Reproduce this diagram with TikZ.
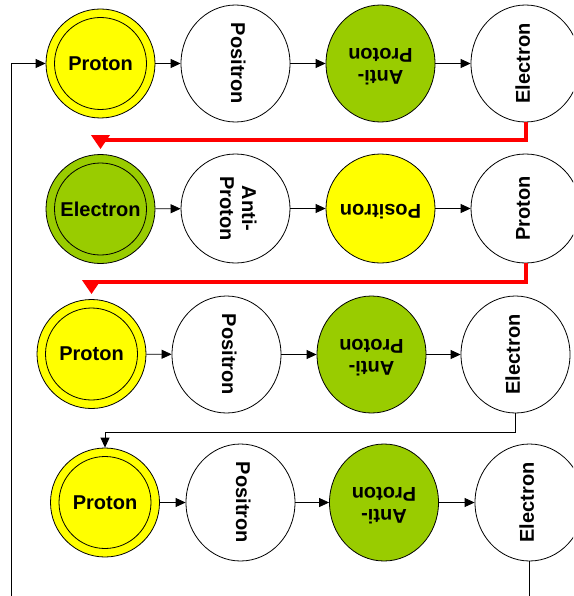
\documentclass[tikz,border=0pt]{standalone}
\usepackage{fontspec}
\setmainfont{Liberation Sans}
\usetikzlibrary{positioning, arrows.meta, shapes.geometric}
\definecolor{pyellow}{HTML}{FFFF00}
\definecolor{pgreen}{HTML}{99CC00}
\newcommand{\turned}[2]{\rotatebox[origin=c]{#1}{\begin{tabular}{@{}c@{}}#2\end{tabular}}}

\begin{document}
\begin{tikzpicture}[x=1pt, y=-1pt,
      part/.style={draw, line width=0.8pt, ellipse, inner sep=0pt,
          minimum width=109pt, minimum height=117pt,
          font=\fontsize{20}{22}\selectfont\bfseries},
      round/.style={part, circle, minimum size=109pt},
      start/.style={round, path picture={
          \draw[line width=0.8pt] (path picture bounding box.center) circle (46pt);}},
      flow/.style={line width=0.8pt, -{Triangle[length=10pt, width=9pt]}},
      jump/.style={line width=4pt, red, -{Triangle[length=14pt, width=18pt]}, shorten >=5pt},
    ]
    \clip (0,0) rectangle (573,596);

    % ---- Row 1 ----
    \node[start, fill=pyellow] (n11) at (100.5, 63.5) {Proton};
    \node[part]                (n12) at (235.5, 63.5) {\turned{-90}{Positron}};
    \node[part, fill=pgreen]   (n13) at (380.5, 63.5) {\turned{180}{Anti-\\Proton}};
    \node[part]                (n14) at (525.5, 63.5) {\turned{90}{Electron}};

    % ---- Row 2 ----
    \node[start, fill=pgreen]  (n21) at (100.5, 209) {Electron};
    \node[round]               (n22) at (235.5, 208.5) {\turned{-90}{Anti-\\Proton}};
    \node[round, fill=pyellow] (n23) at (380.5, 208.5) {\turned{180}{Positron}};
    \node[round]               (n24) at (525.5, 208.5) {\turned{90}{Proton}};

    % ---- Row 3 ----
    \node[start, fill=pyellow] (n31) at (91.5, 354) {Proton};
    \node[part]                (n32) at (226.5, 354.5) {\turned{-90}{Positron}};
    \node[part, fill=pgreen]   (n33) at (371.5, 354.5) {\turned{180}{Anti-\\Proton}};
    \node[part]                (n34) at (515.5, 354.5) {\turned{90}{Electron}};

    % ---- Row 4 ----
    \node[start, fill=pyellow] (n41) at (105, 502.5) {Proton};
    \node[part]                (n42) at (240.5, 502.5) {\turned{-90}{Positron}};
    \node[part, fill=pgreen]   (n43) at (384, 502.5) {\turned{180}{Anti-\\Proton}};
    \node[part]                (n44) at (529.5, 502.5) {\turned{90}{Electron}};

    % ---- Arrows along each row ----
    \foreach \r in {1,...,4}{
        \foreach \a/\b in {1/2, 2/3, 3/4}{
            \draw[flow] (n\r\a) -- (n\r\b);
          }
      }

    % ---- Row to row ----
    \draw[jump] (n14.south) -- ++(0,18) -| (n21.north);
    \draw[jump] (n24.south) -- ++(0,19) -| (n31.north);
    \draw[flow] (n34.south) -- ++(0,19) -| (n41.north);

    % ---- Loop back to the start ----
    \coordinate (loopout) at (529.5, 596);
    \coordinate (loopin) at (11, 596);
    \draw[line width=0.8pt] (n44.south) -- (loopout);
    \draw[flow] (loopin) |- (n11);

  \end{tikzpicture}
\end{document}
